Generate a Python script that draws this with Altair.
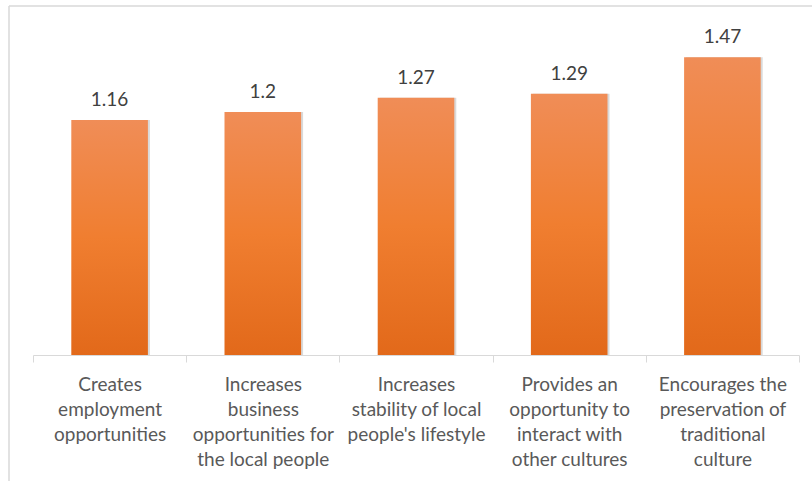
import altair as alt
import pandas as pd

categories = [
    "Creates|employment|opportunities",
    "Increases|business|opportunities for|the local people",
    "Increases|stability of local|people's lifestyle",
    "Provides an|opportunity to|interact with|other cultures",
    "Encourages the|preservation of|traditional|culture",
]
values = [1.16, 1.2, 1.27, 1.29, 1.47]
value_labels = ["1.16", "1.2", "1.27", "1.29", "1.47"]

df = pd.DataFrame({"category": categories, "value": values, "label": value_labels})
frame = pd.DataFrame({"k": [0]})

x = alt.X(
    "category:N",
    sort=None,
    scale=alt.Scale(paddingInner=0, paddingOuter=0),
    axis=alt.Axis(
        title=None,
        labelAngle=0,
        labelExpr="split(datum.label, '|')",
        tickBand="extent",
        tickSize=7,
        tickColor="#D9D9D9",
        domainColor="#D9D9D9",
        labelFont="Lato",
        labelFontSize=19,
        labelColor="#595959",
        labelLineHeight=25,
        labelBaseline="top",
        labelPadding=13,
        labelLimit=250,
        grid=False,
    ),
)
y = alt.Y("value:Q", scale=alt.Scale(domain=[0, 1.6], nice=False), axis=None)

grad = alt.Gradient(
    gradient="linear",
    stops=[
        alt.GradientStop(color="#F08D57", offset=0),
        alt.GradientStop(color="#F07E30", offset=0.5),
        alt.GradientStop(color="#E2691A", offset=1),
    ],
    x1=0, x2=0, y1=0, y2=1,
)

shadow = alt.Chart(df).mark_bar(
    color="#000000", opacity=0.15, width=alt.RelativeBandSize(0.5), xOffset=2
).encode(x=x, y=y)
bars = alt.Chart(df).mark_bar(color=grad, width=alt.RelativeBandSize(0.5)).encode(x=x, y=y)
text = alt.Chart(df).mark_text(
    baseline="alphabetic", dy=-14, font="Lato", fontSize=19, color="#404040"
).encode(x=x, y=y, text="label:N")

top_border = alt.Chart(frame).mark_rule(color="#D9D9D9", strokeWidth=1.5).encode(
    x=alt.value(-24), x2=alt.value(800), y=alt.value(-25)
)
left_border = alt.Chart(frame).mark_rule(color="#D9D9D9", strokeWidth=1.5).encode(
    x=alt.value(-24), y=alt.value(-25), y2=alt.value(500)
)

chart = (
    alt.layer(top_border, left_border, shadow, bars, text)
    .properties(
        width=766,
        height=324,
        padding={"left": 33, "top": 31, "right": 13, "bottom": 126},
        autosize=alt.AutoSizeParams(type="none"),
        background="white",
    )
    .configure_view(stroke=None)
)

chart.save("out.html", embed_options={"renderer": "svg", "actions": False})
